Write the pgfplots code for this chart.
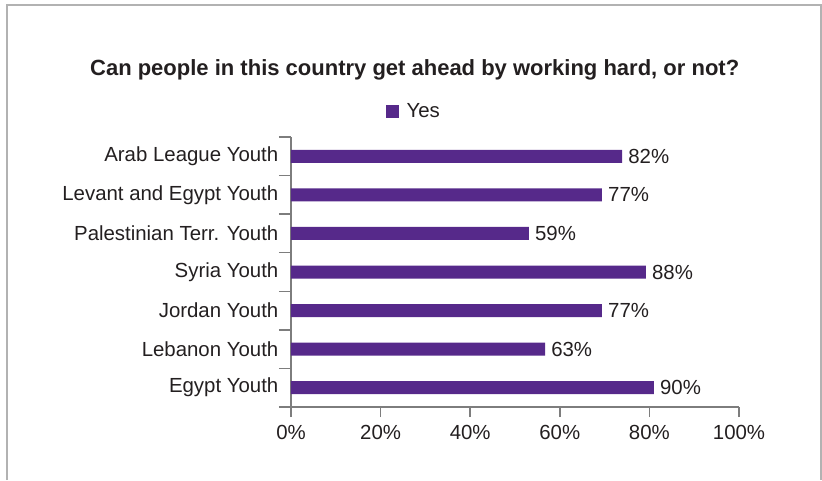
\documentclass[border=0pt]{standalone}
\usepackage{pgfplots}
\pgfplotsset{compat=1.18}
\usepackage{fontspec}
\setmainfont{Liberation Sans}
\definecolor{barpurple}{RGB}{86,41,138}
\definecolor{axgray}{RGB}{125,125,125}
\definecolor{framegray}{RGB}{178,178,178}
\definecolor{txt}{RGB}{35,31,32}
\begin{document}
\begin{tikzpicture}
\useasboundingbox (0,0) rectangle (616.5pt,360pt);
\draw[framegray, line width=1.5pt] (5.6pt,0) -- (5.6pt,355.9pt) -- (615.4pt,355.9pt) -- (615.4pt,0);
\node[anchor=base, text=txt, font=\fontsize{16.5}{19}\selectfont\bfseries] at (311pt,303.5pt) {Can people in this country get ahead by working hard, or not?};
\begin{axis}[
  at={(218.25pt,54.75pt)}, anchor=south west,
  scale only axis, width=336pt, height=202.5pt,
  xmin=0, xmax=100, ymin=-0.5, ymax=6.5, y dir=reverse,
  xbar, bar width=9.75pt,
  axis lines*=left,
  axis line style={axgray, line width=1.1pt},
  tick align=outside,
  major tick length=7.5pt, minor tick length=9pt,
  xtick={0,20,40,60,80,100},
  xticklabels={0\%,20\%,40\%,60\%,80\%,100\%},
  xticklabel style={yshift=-3pt},
  x tick style={axgray, line width=1.1pt},
  ytick={0,1,2,3,4,5,6},
  yticklabels={Arab League Youth, Levant and Egypt Youth, Palestinian Terr. Youth, Syria Youth, Jordan Youth, Lebanon Youth, Egypt Youth},
  yticklabel style={xshift=1.5pt},
  y tick style={draw=none},
  minor ytick={-0.5,0.5,1.5,2.5,3.5,4.5,5.5,6.5},
  minor y tick style={draw=axgray, line width=1.1pt},
  tick label style={text=txt, font=\fontsize{15.3}{18}\selectfont},
  clip=false,
  point meta=explicit,
  nodes near coords={\pgfmathprintnumber[fixed,precision=0,assume math mode=true]{\pgfplotspointmeta}\%},
  nodes near coords style={anchor=west, text=txt, font=\fontsize{15.3}{18}\selectfont, inner sep=1pt, xshift=3.5pt},
  legend style={at={(0.2746,1.094)}, anchor=center, draw=none, fill=none, font=\fontsize{15.3}{18}\selectfont, text=txt, inner sep=0pt, /tikz/every even column/.append style={column sep=0pt}},
  legend image code/.code={\fill[barpurple] (-2pt,-4.875pt) rectangle (7.75pt,4.875pt);},
  legend cell align=left,
]
\addplot[fill=barpurple, draw=none] coordinates {
  (73.9,0) [82]
  (69.4,1) [77]
  (53.1,2) [59]
  (79.2,3) [88]
  (69.4,4) [77]
  (56.7,5) [63]
  (81.0,6) [90]
};
\addlegendentry{\hspace{4pt}Yes}
\end{axis}
\end{tikzpicture}
\end{document}
